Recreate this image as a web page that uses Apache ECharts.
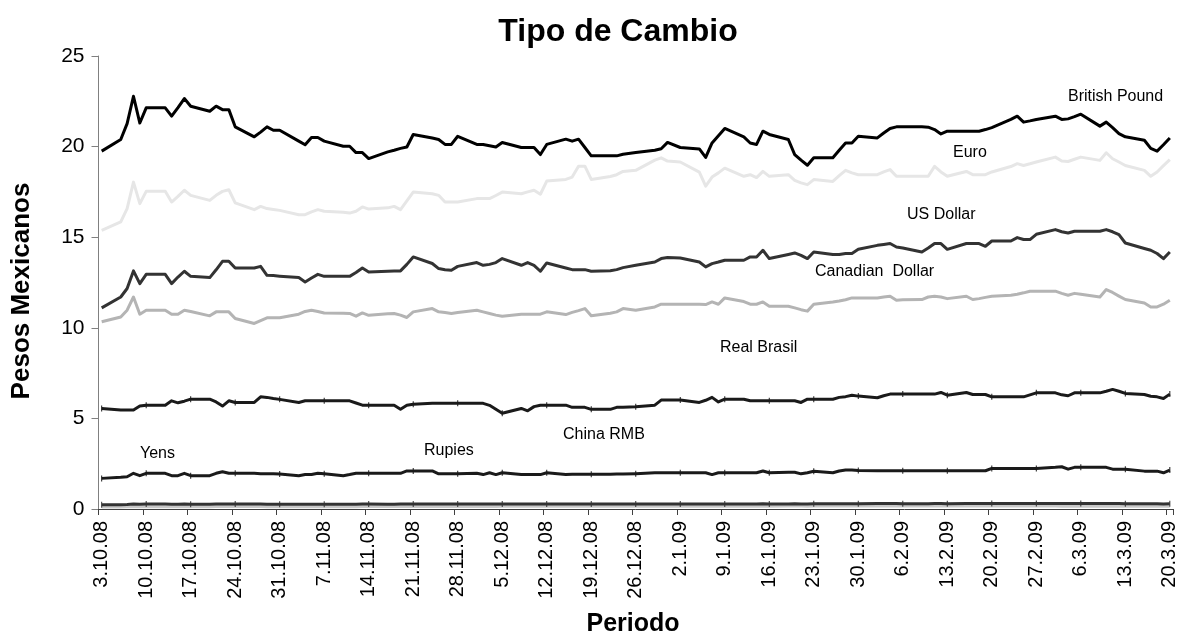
<!DOCTYPE html>
<html>
<head>
<meta charset="utf-8">
<title>Tipo de Cambio</title>
<script src="https://cdn.jsdelivr.net/npm/echarts@6/dist/echarts.min.js"></script>
<style>
  html, body { margin: 0; padding: 0; background: #ffffff; }
  #chart { width: 1187px; height: 641px; }
</style>
</head>
<body>
<div id="chart"></div>
<script>
// Daily quotes in Mexican pesos, one value per weekday (Mon-Fri),
// from Fri 3.10.08 to Fri 20.3.09; null = no quote (25.12.08, 1.1.09).
const firstDay = Date.UTC(2008, 9, 3);
const lastDay = Date.UTC(2009, 2, 20);

const britishPound = [
  19.75,
  20.39, 21.27, 22.78, 21.30, 22.14,
  22.14, 21.68, 22.15, 22.65, 22.23,
  21.95, 22.23, 22.04, 22.04, 21.09,
  20.54, 20.80, 21.09, 20.90, 20.90,
  20.30, 20.10, 20.50, 20.50, 20.30,
  20.02, 20.02, 19.67, 19.67, 19.34,
  19.71, 19.80, 19.90, 19.98, 20.67,
  20.47, 20.39, 20.12, 20.12, 20.57,
  20.12, 20.12, 20.05, 19.98, 20.23,
  19.95, 19.95, 19.95, 19.56, 20.12,
  20.41, 20.30, 20.41, 19.95, 19.49,
  19.49, 19.49, 19.58, null, 19.67,
  19.80, 19.88, 20.23, null, 19.95,
  19.87, 19.40, 20.20, 20.60, 21.00,
  20.54, 20.20, 20.12, 20.85, 20.67,
  20.39, 19.56, 19.25, 18.97, 19.38,
  19.38, 19.80, 20.20, 20.20, 20.57,
  20.48, 20.75, 21.00, 21.09, 21.09,
  21.09, 21.07, 20.94, 20.70, 20.85,
  20.85, 20.85, 20.85, 20.94, 21.05,
  21.50, 21.68, 21.35, 21.42, 21.50,
  21.68, 21.50, 21.53, 21.65, 21.79,
  21.13, 21.35, 21.05, 20.72, 20.54,
  20.35, 19.90, 19.75, 20.10, 20.48
];

const euro = [
  15.38,
  15.84, 16.58, 18.04, 16.85, 17.53,
  17.53, 16.94, 17.25, 17.59, 17.31,
  17.03, 17.31, 17.53, 17.62, 16.89,
  16.52, 16.70, 16.58, 16.53, 16.48,
  16.24, 16.24, 16.40, 16.52, 16.43,
  16.38, 16.33, 16.43, 16.67, 16.55,
  16.62, 16.70, 16.52, 17.00, 17.49,
  17.40, 17.31, 16.94, 16.94, 16.94,
  17.13, 17.13, 17.13, 17.30, 17.49,
  17.40, 17.50, 17.59, 17.37, 18.10,
  18.19, 18.32, 18.92, 18.92, 18.19,
  18.35, 18.45, 18.63, null, 18.69,
  19.25, 19.38, 19.20, null, 19.15,
  18.59, 17.82, 18.32, 18.55, 18.81,
  18.36, 18.45, 18.29, 18.63, 18.36,
  18.45, 18.14, 18.00, 17.90, 18.18,
  18.08, 18.40, 18.69, 18.55, 18.45,
  18.45, 18.60, 18.73, 18.36, 18.36,
  18.36, 18.36, 18.91, 18.60, 18.36,
  18.63, 18.45, 18.45, 18.45, 18.60,
  18.90, 19.06, 18.96, 19.05, 19.15,
  19.42, 19.20, 19.18, 19.30, 19.42,
  19.24, 19.66, 19.33, 19.15, 18.96,
  18.69, 18.36, 18.60, 18.95, 19.28
];

const usDollar = [
  11.10,
  11.70, 12.17, 13.14, 12.44, 12.95,
  12.95, 12.44, 12.80, 13.12, 12.84,
  12.77, 13.20, 13.67, 13.67, 13.30,
  13.30, 13.39, 12.90, 12.88, 12.85,
  12.77, 12.53, 12.75, 12.95, 12.84,
  12.84, 12.84, 13.05, 13.30, 13.08,
  13.12, 13.13, 13.14, 13.50, 13.91,
  13.55, 13.27, 13.20, 13.18, 13.39,
  13.60, 13.45, 13.50, 13.60, 13.82,
  13.45, 13.60, 13.45, 13.12, 13.58,
  13.30, 13.21, 13.21, 13.21, 13.12,
  13.15, 13.21, 13.32, null, 13.45,
  13.63, 13.82, 13.88, null, 13.85,
  13.63, 13.36, 13.54, 13.63, 13.73,
  13.73, 13.91, 13.91, 14.28, 13.82,
  14.05, 14.13, 14.00, 13.82, 14.18,
  14.04, 14.05, 14.10, 14.10, 14.33,
  14.55, 14.60, 14.65, 14.46, 14.40,
  14.18, 14.40, 14.65, 14.65, 14.33,
  14.65, 14.65, 14.65, 14.50, 14.79,
  14.79, 14.98, 14.87, 14.87, 15.16,
  15.42, 15.30, 15.23, 15.33, 15.33,
  15.33, 15.42, 15.30, 15.14, 14.68,
  14.38, 14.28, 14.10, 13.82, 14.18
];

const canadianDollar = [
  10.33,
  10.60, 10.97, 11.70, 10.75, 10.97,
  10.97, 10.75, 10.75, 10.97, 10.90,
  10.66, 10.88, 10.88, 10.88, 10.51,
  10.24, 10.40, 10.55, 10.55, 10.55,
  10.75, 10.90, 10.97, 10.90, 10.82,
  10.80, 10.79, 10.64, 10.82, 10.69,
  10.77, 10.79, 10.70, 10.57, 10.88,
  11.06, 10.88, 10.84, 10.79, 10.85,
  10.97, 10.88, 10.79, 10.70, 10.64,
  10.75, 10.75, 10.75, 10.75, 10.88,
  10.73, 10.85, 10.95, 11.06, 10.66,
  10.80, 10.88, 11.06, null, 10.97,
  11.15, 11.30, 11.30, null, 11.30,
  11.30, 11.28, 11.43, 11.30, 11.65,
  11.45, 11.30, 11.30, 11.43, 11.19,
  11.19, 11.10, 11.00, 10.92, 11.30,
  11.42, 11.48, 11.55, 11.65, 11.65,
  11.65, 11.70, 11.74, 11.52, 11.55,
  11.56, 11.70, 11.74, 11.70, 11.61,
  11.74, 11.56, 11.61, 11.68, 11.74,
  11.80, 11.85, 11.93, 12.02, 12.02,
  12.02, 11.90, 11.80, 11.90, 11.85,
  11.70, 12.11, 11.95, 11.75, 11.56,
  11.37, 11.15, 11.15, 11.30, 11.52
];

const realBrasil = [
  5.55,
  5.46, 5.46, 5.46, 5.68, 5.73,
  5.73, 5.97, 5.86, 5.95, 6.06,
  6.06, 5.91, 5.68, 5.97, 5.88,
  5.88, 6.19, 6.16, 6.10, 6.05,
  5.88, 5.97, 5.97, 5.97, 5.97,
  5.97, 5.97, 5.85, 5.73, 5.73,
  5.73, 5.73, 5.51, 5.73, 5.78,
  5.83, 5.83, 5.83, 5.83, 5.83,
  5.83, 5.83, 5.72, 5.50, 5.28,
  5.55, 5.42, 5.65, 5.73, 5.73,
  5.73, 5.61, 5.61, 5.61, 5.50,
  5.50, 5.61, 5.62, null, 5.64,
  5.73, 6.01, 6.01, null, 6.01,
  5.88, 6.00, 6.16, 5.91, 6.06,
  6.06, 5.97, 5.97, 5.97, 5.97,
  5.97, 5.97, 5.88, 6.06, 6.06,
  6.06, 6.16, 6.20, 6.28, 6.23,
  6.14, 6.25, 6.34, 6.34, 6.34,
  6.34, 6.34, 6.34, 6.43, 6.28,
  6.43, 6.32, 6.32, 6.32, 6.19,
  6.19, 6.19, 6.19, 6.30, 6.41,
  6.41, 6.30, 6.25, 6.41, 6.41,
  6.41, 6.50, 6.60, 6.50, 6.38,
  6.32, 6.22, 6.19, 6.10, 6.34
];

const chinaRmb = [
  1.69,
  1.75, 1.78, 1.97, 1.84, 1.97,
  1.97, 1.84, 1.84, 1.97, 1.84,
  1.84, 1.97, 2.06, 1.97, 1.97,
  1.97, 1.95, 1.95, 1.95, 1.93,
  1.84, 1.90, 1.90, 1.97, 1.95,
  1.84, 1.90, 1.97, 1.97, 1.97,
  1.97, 1.97, 1.97, 2.10, 2.10,
  2.10, 1.94, 1.95, 1.95, 1.95,
  1.97, 1.90, 2.00, 1.90, 2.00,
  1.90, 1.90, 1.90, 1.90, 2.00,
  1.90, 1.92, 1.92, 1.92, 1.92,
  1.92, 1.93, 1.93, null, 1.95,
  2.00, 2.00, 2.00, null, 2.00,
  2.00, 2.00, 1.90, 2.00, 2.00,
  2.00, 2.00, 2.00, 2.10, 2.00,
  2.03, 2.03, 1.94, 2.00, 2.08,
  2.00, 2.10, 2.15, 2.15, 2.13,
  2.11, 2.11, 2.11, 2.11, 2.11,
  2.11, 2.11, 2.11, 2.11, 2.11,
  2.11, 2.11, 2.11, 2.11, 2.24,
  2.24, 2.24, 2.24, 2.24, 2.24,
  2.30, 2.33, 2.20, 2.30, 2.30,
  2.30, 2.30, 2.20, 2.20, 2.20,
  2.09, 2.09, 2.09, 2.00, 2.15
];

const rupias = [
  0.24,
  0.24, 0.25, 0.27, 0.26, 0.27,
  0.27, 0.26, 0.26, 0.27, 0.26,
  0.26, 0.27, 0.28, 0.28, 0.27,
  0.27, 0.27, 0.26, 0.26, 0.26,
  0.26, 0.26, 0.26, 0.26, 0.26,
  0.26, 0.26, 0.26, 0.27, 0.27,
  0.26, 0.26, 0.27, 0.27, 0.28,
  0.27, 0.27, 0.27, 0.27, 0.27,
  0.27, 0.27, 0.27, 0.27, 0.27,
  0.27, 0.27, 0.27, 0.27, 0.27,
  0.27, 0.28, 0.28, 0.28, 0.27,
  0.27, 0.27, 0.27, null, 0.28,
  0.28, 0.28, 0.28, null, 0.28,
  0.28, 0.28, 0.28, 0.28, 0.28,
  0.28, 0.28, 0.28, 0.29, 0.28,
  0.28, 0.29, 0.28, 0.28, 0.29,
  0.29, 0.29, 0.29, 0.29, 0.29,
  0.30, 0.30, 0.30, 0.30, 0.29,
  0.29, 0.29, 0.30, 0.30, 0.29,
  0.30, 0.30, 0.30, 0.30, 0.30,
  0.30, 0.30, 0.30, 0.30, 0.30,
  0.30, 0.30, 0.30, 0.30, 0.30,
  0.30, 0.30, 0.30, 0.30, 0.29,
  0.29, 0.29, 0.29, 0.28, 0.29
];

const yenes = [
  0.11,
  0.11, 0.12, 0.13, 0.13, 0.13,
  0.13, 0.12, 0.13, 0.13, 0.13,
  0.13, 0.14, 0.14, 0.14, 0.14,
  0.14, 0.14, 0.13, 0.13, 0.13,
  0.13, 0.13, 0.13, 0.13, 0.13,
  0.13, 0.13, 0.13, 0.14, 0.14,
  0.14, 0.14, 0.14, 0.14, 0.15,
  0.14, 0.14, 0.14, 0.14, 0.14,
  0.14, 0.14, 0.14, 0.14, 0.15,
  0.15, 0.15, 0.15, 0.15, 0.15,
  0.15, 0.15, 0.15, 0.15, 0.15,
  0.15, 0.15, 0.15, null, 0.15,
  0.15, 0.15, 0.15, null, 0.15,
  0.15, 0.15, 0.15, 0.15, 0.15,
  0.15, 0.15, 0.15, 0.16, 0.15,
  0.16, 0.16, 0.16, 0.15, 0.16,
  0.16, 0.16, 0.16, 0.16, 0.16,
  0.16, 0.16, 0.16, 0.16, 0.16,
  0.16, 0.16, 0.16, 0.16, 0.16,
  0.16, 0.16, 0.16, 0.16, 0.16,
  0.16, 0.16, 0.16, 0.16, 0.16,
  0.16, 0.15, 0.15, 0.15, 0.15,
  0.15, 0.15, 0.15, 0.15, 0.15,
  0.15, 0.15, 0.15, 0.15, 0.15
];

// Name drawn next to each curve
const seriesNames = ['Yens', 'Rupies', 'China RMB', 'Real Brasil', 'Canadian  Dollar', 'US Dollar', 'Euro', 'British Pound'];

const FONT = '"Liberation Sans", Arial, Helvetica, sans-serif';
const DAY = 86400000;

// Calendar axis: every day is a category, weekends carry no quote
const dates = [];
const isWeekday = [];
for (let t = firstDay; t <= lastDay; t += DAY) {
  const d = new Date(t);
  dates.push(d.getUTCDate() + '.' + (d.getUTCMonth() + 1) + '.' + String(d.getUTCFullYear()).slice(2));
  const wd = d.getUTCDay();
  isWeekday.push(wd >= 1 && wd <= 5);
}

function onCalendar(values) {
  let k = 0;
  return isWeekday.map(w => (w ? (k < values.length ? values[k++] : null) : null));
}

function lineSeries(name, values, color, width, marks) {
  return {
    name: name,
    type: 'line',
    data: onCalendar(values),
    connectNulls: true,
    showSymbol: !!marks,
    symbol: marks ? 'rect' : 'none',
    symbolSize: marks ? [1, 6] : 0,
    itemStyle: { color: color },
    lineStyle: { color: color, width: width, join: 'round' },
    emphasis: { disabled: true },
    silent: true
  };
}

const chart = echarts.init(document.getElementById('chart'), null, { renderer: 'canvas' });

const curveLabels = [
  { text: 'British Pound', x: 1068, y: 97 },
  { text: 'Euro', x: 953, y: 153 },
  { text: 'US Dollar', x: 907, y: 215 },
  { text: 'Canadian  Dollar', x: 815, y: 272 },
  { text: 'Real Brasil', x: 720, y: 348 },
  { text: 'China RMB', x: 563, y: 435 },
  { text: 'Yens', x: 140, y: 454 },
  { text: 'Rupies', x: 424, y: 451 }
];

chart.setOption({
  animation: false,
  backgroundColor: '#ffffff',
  textStyle: { fontFamily: FONT },
  grid: { left: 98.5, right: 14, top: 56, bottom: 132 },
  xAxis: {
    type: 'category',
    data: dates,
    boundaryGap: true,
    axisLine: { show: true, lineStyle: { color: '#404040', width: 1 } },
    axisTick: { show: true, interval: 6, length: 6, lineStyle: { color: '#404040', width: 1 } },
    axisLabel: {
      interval: 6, rotate: 90, margin: 12,
      fontSize: 20, color: '#000000', fontFamily: FONT
    },
    splitLine: { show: false }
  },
  yAxis: {
    type: 'value',
    min: 0, max: 25, interval: 5,
    axisLine: { show: true, lineStyle: { color: '#808080', width: 1 } },
    axisTick: { show: true, length: 7, lineStyle: { color: '#808080', width: 1 } },
    axisLabel: { margin: 14, fontSize: 21, color: '#000000', fontFamily: FONT },
    splitLine: { show: false }
  },
  series: [
    lineSeries(seriesNames[0], yenes, '#c8c8c8', 3, false),
    lineSeries(seriesNames[1], rupias, '#333333', 3, true),
    lineSeries(seriesNames[2], chinaRmb, '#1a1a1a', 3, true),
    lineSeries(seriesNames[3], realBrasil, '#1a1a1a', 3, true),
    lineSeries(seriesNames[4], canadianDollar, '#b4b4b4', 3, false),
    lineSeries(seriesNames[5], usDollar, '#333333', 3, false),
    lineSeries(seriesNames[6], euro, '#e6e6e6', 3, false),
    lineSeries(seriesNames[7], britishPound, '#000000', 3, false)
  ],
  graphic: [
    {
      type: 'text', x: 618, y: 32,
      style: { text: 'Tipo de Cambio', font: 'bold 32px ' + FONT, fill: '#000', align: 'center', verticalAlign: 'middle' }
    },
    {
      type: 'text', x: 22, y: 291, rotation: Math.PI / 2,
      style: { text: 'Pesos Mexicanos', font: 'bold 26px ' + FONT, fill: '#000', align: 'center', verticalAlign: 'middle' }
    },
    {
      type: 'text', x: 633, y: 624,
      style: { text: 'Periodo', font: 'bold 25px ' + FONT, fill: '#000', align: 'center', verticalAlign: 'middle' }
    }
  ].concat(curveLabels.map(l => ({
    type: 'text', x: l.x, y: l.y,
    style: { text: l.text, font: '16px ' + FONT, fill: '#000', align: 'left', verticalAlign: 'middle' }
  })))
});
</script>
</body>
</html>
